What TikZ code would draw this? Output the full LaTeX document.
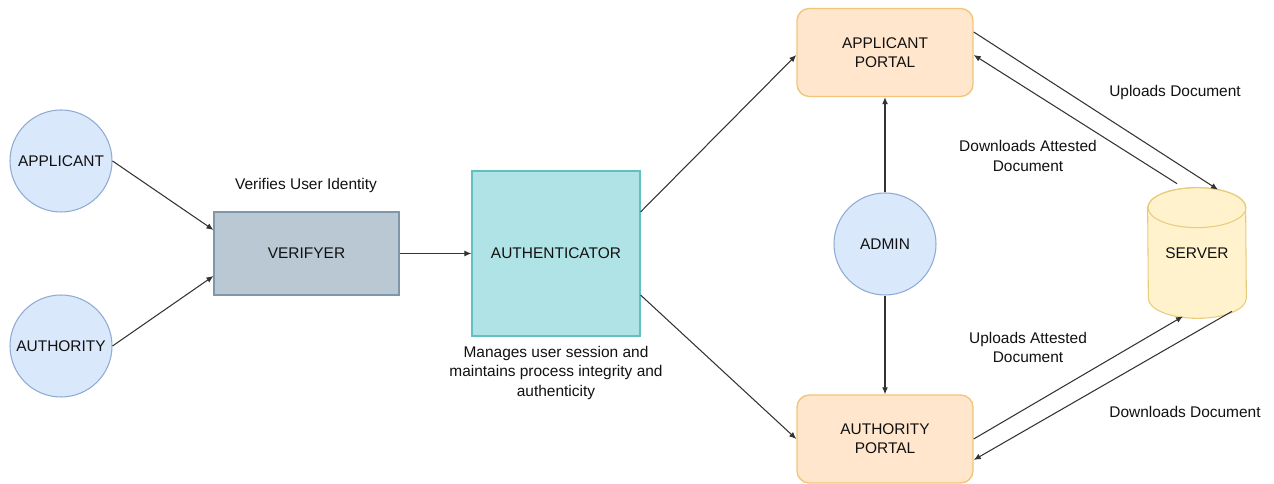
\documentclass[tikz,border=0pt]{standalone}
\usepackage{fontspec}
\setmainfont{Liberation Sans}
\usetikzlibrary{arrows.meta,calc,positioning}

\begin{document}
\begin{tikzpicture}[>={Latex[length=4pt,width=3.4pt]},
    font=\fontsize{8.8}{11}\selectfont,
    conn/.style={->,line width=0.6pt,draw=LineGray},
    actor/.style={circle,draw=ActorLine,fill=ActorFill,line width=0.6pt,minimum size=2.04cm,inner sep=0pt,text=TextDark},
    portal/.style={rectangle,rounded corners=7pt,draw=PortalLine,fill=PortalFill,line width=0.8pt,minimum width=3.52cm,minimum height=1.76cm,align=center,text=TextDark},
    note/.style={align=center,text=TextDark}]
  %--- Theme colors ---
  \definecolor{ActorFill}{HTML}{DAE8FC}     % user circles
  \definecolor{ActorLine}{HTML}{8FAAD3}
  \definecolor{PortalFill}{HTML}{FFE6CC}    % portals
  \definecolor{PortalLine}{HTML}{F2C67A}
  \definecolor{VerFill}{HTML}{BAC8D3}       % verifyer box
  \definecolor{VerLine}{HTML}{7F97AA}
  \definecolor{AuthFill}{HTML}{B0E3E6}      % authenticator box
  \definecolor{AuthLine}{HTML}{62BFC4}
  \definecolor{SrvFill}{HTML}{FFF2CC}       % server drum
  \definecolor{SrvLine}{HTML}{E8CC7E}
  \definecolor{LineGray}{HTML}{333333}
  \definecolor{TextDark}{HTML}{111111}

  \useasboundingbox (0,0) rectangle (25.48,9.68);

  %--- Users ---
  \node[actor] (applicant) at (1.22,6.46) {APPLICANT};
  \node[actor] (authority) at (1.22,2.76) {AUTHORITY};

  %--- Verification and session ---
  \node[draw=VerLine,fill=VerFill,line width=0.6pt,minimum width=3.7cm,minimum height=1.66cm,text=TextDark] (verifyer) at (6.13,4.61) {VERIFYER};
  \node[note] (verinote) at (6.12,5.96) {Verifies User Identity};
  \node[draw=AuthLine,fill=AuthFill,line width=0.6pt,minimum width=3.36cm,minimum height=3.30cm,text=TextDark] (authenticator) at (11.12,4.61) {AUTHENTICATOR};
  \node[note] (authnote) at (11.12,2.22) {Manages user session and\\maintains process integrity and\\authenticity};

  %--- Portals and admin ---
  \node[portal] (applportal) at (17.70,8.63) {APPLICANT\\PORTAL};
  \node[portal] (authportal) at (17.70,0.90) {AUTHORITY\\PORTAL};
  \node[actor] (admin) at (17.70,4.80) {ADMIN};

  %--- Server (drum drawn around the node) ---
  \node[minimum width=1.96cm,minimum height=2.60cm,inner sep=0pt,text=TextDark] (server) at (23.94,4.62) {SERVER};
  \filldraw[draw=SrvLine,fill=SrvFill,line width=0.6pt]
    ($(server.north west)+(0,-0.4)$) arc[start angle=180,end angle=0,x radius=0.98,y radius=0.4]
    -- ($(server.south east)+(0,0.4)$) arc[start angle=0,end angle=-180,x radius=0.98,y radius=0.4]
    -- cycle;
  \draw[draw=SrvLine,line width=0.6pt] ($(server.north)+(0,-0.4)$) ellipse[x radius=0.98,y radius=0.4];
  \node[text=TextDark] at (server) {SERVER};

  %--- Flow ---
  \draw[conn] (applicant.east) -- ([yshift=0.47cm]verifyer.west);
  \draw[conn] (authority.east) -- ([yshift=-0.45cm]verifyer.west);
  \draw[conn] (verifyer.east) -- (authenticator.west);
  \draw[conn] ([yshift=0.83cm]authenticator.east) -- ([yshift=-0.05cm]applportal.west);
  \draw[conn] ([yshift=-0.83cm]authenticator.east) -- (authportal.west);
  \draw[conn] (admin.north) -- (applportal.south);
  \draw[conn] (admin.south) -- (authportal.north);

  %--- Document exchange with the server ---
  \draw[conn] ([yshift=0.41cm]applportal.east) -- ([xshift=0.42cm,yshift=-0.04cm]server.north);
  \draw[conn] ([xshift=-0.4cm,yshift=0.08cm]server.north) -- ([yshift=-0.05cm]applportal.east);
  \draw[conn] (authportal.east) -- ([xshift=-0.28cm,yshift=0.04cm]server.south);
  \draw[conn] ([xshift=0.7cm,yshift=0.14cm]server.south) -- ([yshift=-0.42cm]authportal.east);

  \node[note] (upl) at (23.50,7.82) {Uploads Document};
  \node[note] (dlatt) at (20.56,6.56) {Downloads Attested\\Document};
  \node[note] (upatt) at (20.56,2.73) {Uploads Attested\\Document};
  \node[note] (dl) at (23.70,1.44) {Downloads Document};
\end{tikzpicture}
\end{document}
